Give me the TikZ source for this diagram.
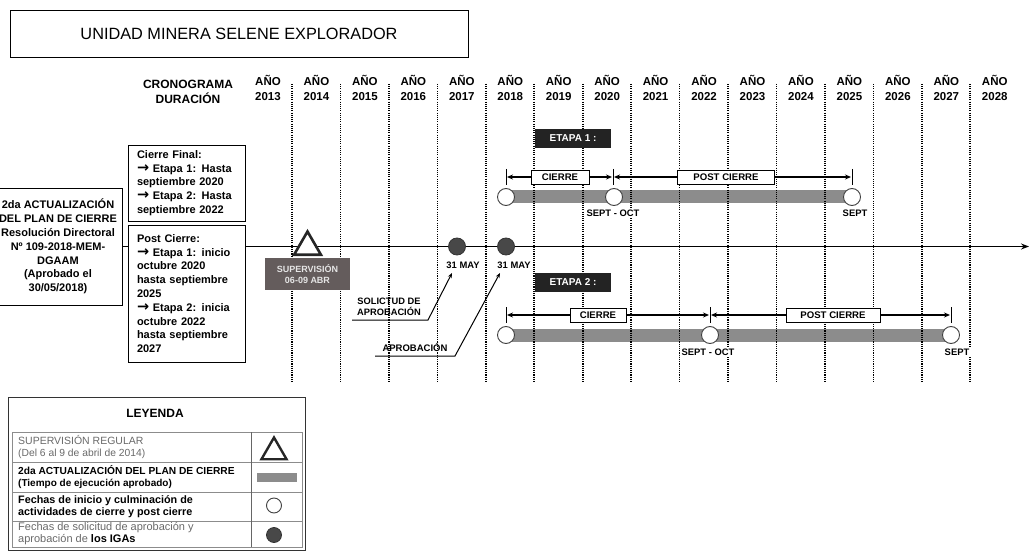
\documentclass[tikz,border=0pt]{standalone}
\usepackage{fontspec}
\setmainfont{Liberation Sans}
\newfontfamily\symfont{DejaVu Sans}
\usetikzlibrary{arrows.meta,shapes.geometric}
\definecolor{bargray}{RGB}{140,140,140}
\definecolor{dotfill}{RGB}{72,72,72}
\definecolor{supbox}{RGB}{100,92,92}
\definecolor{etapafill}{RGB}{35,35,35}
\definecolor{legtxt}{RGB}{105,105,105}
\newcommand\fsz[2]{\fontsize{#1}{#2}\selectfont}
\newcommand\arr{{\symfont\bfseries\fontsize{14.5}{13.8}\selectfont →}}
\begin{document}
\begin{tikzpicture}[x=1pt,y=-1pt,
  yearlbl/.style={font=\bfseries\fsz{11.5}{15}, align=center, inner sep=0},
  vdots/.style={line width=1.7pt, dash pattern=on 1.1pt off 1.1pt},
  phasebar/.style={line width=13pt, draw=bargray},
  opendot/.style={circle, draw=black!75, line width=0.9pt, fill=white, minimum size=17pt, inner sep=0},
  filldot/.style={circle, draw=black!80, line width=0.8pt, fill=dotfill, minimum size=17pt, inner sep=0},
  tagbox/.style={draw, line width=0.8pt, fill=white, font=\bfseries\fsz{9.6}{11}, minimum height=14pt, inner sep=0},
  etapabox/.style={fill=etapafill, text=white, font=\bfseries\fsz{10}{12}, minimum width=76pt, minimum height=19pt, inner sep=0},
  datelbl/.style={fill=white, font=\bfseries\fsz{9.4}{11}, inner sep=1.5pt},
  dimarr/.style={-{Stealth[length=6pt,width=5pt]}, line width=1.2pt, shorten >=1pt},
  annarr/.style={-{Stealth[length=5pt,width=4pt]}, line width=1pt},
  tickmark/.style={line width=0.9pt},
  infobox/.style={draw, line width=0.9pt, fill=white, font=\bfseries\fsz{11}{13.8}, inner sep=0},
  tri/.style={regular polygon, regular polygon sides=3, draw=black!85, line width=2.6pt, fill=white, inner sep=0},
  legrow/.style={anchor=west, align=left, inner sep=0},
]
\useasboundingbox (0,0) rectangle (1030,556);

% title
\node[draw, line width=0.9pt, minimum width=458pt, minimum height=47pt, font=\fsz{16.3}{19}] (title) at (239,33.5) {UNIDAD MINERA SELENE EXPLORADOR};

% header
\node[yearlbl, font=\bfseries\fsz{12}{15}] (crono) at (188,92) {CRONOGRAMA\\DURACIÓN};
\foreach \yr [count=\k from 0] in {2013,...,2028}
  \node[yearlbl] (y\yr) at ({268+48.45*\k},88) {AÑO\\\yr};

% phase bar coordinates
\coordinate (p11) at (506,197);
\coordinate (p12) at (614,197);
\coordinate (p13) at (852,197);
\coordinate (p21) at (506,335);
\coordinate (p22) at (710,335);
\coordinate (p23) at (951,335);
\draw[phasebar] (p11) -- (p13);
\draw[phasebar] (p21) -- (p23);

% dotted year separators
\foreach \i in {0,...,14}
  \draw[vdots] ({292+48.45*\i},84) -- ({292+48.45*\i},383);

% left boxes and main axis
\node[infobox, align=center, minimum width=128pt, minimum height=117pt] (lb) at (58,246.5)
  {2da ACTUALIZACIÓN\\DEL PLAN DE CIERRE\\Resolución Directoral\\Nº 109-2018-MEM-\\DGAAM\\(Aprobado el\\30/05/2018)};
\coordinate (axend) at (1029,246.5);
\draw[line width=1.3pt, -{Stealth[length=8pt,width=6pt]}] (lb.east) -- (axend);

\node[infobox, align=left, text width=99pt, inner xsep=9pt, minimum height=76pt] (cf) at (186.5,183)
  {Cierre Final:\\\arr{} Etapa 1: Hasta\\septiembre 2020\\\arr{} Etapa 2: Hasta\\septiembre 2022};
\node[infobox, align=left, text width=99pt, inner xsep=9pt, minimum height=137pt] (pc) at (186.5,293.5)
  {Post Cierre:\\\arr{} Etapa 1: inicio\\octubre 2020\\hasta septiembre\\2025\\\arr{} Etapa 2: inicia\\octubre 2022\\hasta septiembre\\2027};

% supervision
\node[tri, minimum size=31pt] (sup) at (307.5,247) {};
\node[fill=supbox, text=black!10, font=\bfseries\fsz{9}{11}, align=center, minimum width=85pt, minimum height=32pt, inner sep=0] (supbox) at (307.5,274) {SUPERVISIÓN\\06-09 ABR};

% approval dots
\node[filldot] (d1) at (457,246.5) {};
\node[filldot] (d2) at (506,246.5) {};
\node[datelbl] (m1) at (463,265) {31 MAY};
\node[datelbl] (m2) at (514,265) {31 MAY};

\node[font=\bfseries\fsz{9.3}{10.5}, align=center, inner sep=0] (sol) at (389,307) {SOLICTUD DE\\APROBACIÓN};
\coordinate (solA) at (352,320);
\coordinate (solB) at (428,320);
\coordinate (solT) at (452,273);
\draw[annarr] (solA) -- (solB) -- (solT);
\node[font=\bfseries\fsz{9.5}{11}, inner sep=0] (apr) at (415,347) {APROBACIÓN};
\coordinate (aprA) at (375,356);
\coordinate (aprB) at (455,356);
\coordinate (aprT) at (500,273);
\draw[annarr] (aprA) -- (aprB) -- (aprT);

% etapa 1
\node[etapabox] (e1) at (573,138.5) {ETAPA 1 :};
\coordinate (k11) at (506,177);
\coordinate (k12) at (613,177);
\coordinate (k13) at (852,177);
\foreach \k in {k11,k12,k13} \draw[tickmark] ([yshift=8pt]\k) -- ([yshift=-8pt]\k);
\node[tagbox, minimum width=58pt] (ci1) at (560,177) {CIERRE};
\node[tagbox, minimum width=97pt] (pci1) at (726,177) {POST CIERRE};
\draw[dimarr] (ci1.west) -- (k11);
\draw[dimarr] (ci1.east) -- (k12);
\draw[dimarr] (pci1.west) -- (k12);
\draw[dimarr] (pci1.east) -- (k13);
\node[opendot] (c11) at (p11) {};
\node[opendot] (c12) at (p12) {};
\node[opendot] (c13) at (p13) {};
\node[datelbl] (so1) at (613,213) {SEPT - OCT};
\node[datelbl] (se1) at (855,213) {SEPT};

% etapa 2
\node[etapabox] (e2) at (573,282.5) {ETAPA 2 :};
\coordinate (k21) at (506,315);
\coordinate (k22) at (710,315);
\coordinate (k23) at (951,315);
\foreach \k in {k21,k22,k23} \draw[tickmark] ([yshift=8pt]\k) -- ([yshift=-8pt]\k);
\node[tagbox, minimum width=56pt] (ci2) at (598,315) {CIERRE};
\node[tagbox, minimum width=94pt] (pci2) at (833,315) {POST CIERRE};
\draw[dimarr] (ci2.west) -- (k21);
\draw[dimarr] (ci2.east) -- (k22);
\draw[dimarr] (pci2.west) -- (k22);
\draw[dimarr] (pci2.east) -- (k23);
\node[opendot] (c21) at (p21) {};
\node[opendot] (c22) at (p22) {};
\node[opendot] (c23) at (p23) {};
\node[datelbl] (so2) at (708,352) {SEPT - OCT};
\node[datelbl] (se2) at (957,352) {SEPT};

% legend
\draw[line width=0.9pt, draw=black!80] (8,397) rectangle (305,550);
\node[font=\bfseries\fsz{12}{13}, inner sep=0] (leyenda) at (155,413) {LEYENDA};
\draw[line width=0.7pt, draw=black!45] (12,432) rectangle (302,547);
\foreach \yy in {462,492,521} \draw[line width=0.7pt, draw=black!45] (12,\yy) -- (302,\yy);
\draw[line width=0.7pt, draw=black!60] (251,432) -- (251,547);
\node[legrow, text=legtxt] (r1) at (18,447) {\fsz{10.5}{12}SUPERVISIÓN REGULAR\\\fsz{10.3}{12}(Del 6 al 9 de abril de 2014)};
\node[legrow, font=\bfseries] (r2) at (18,477) {\fsz{10.2}{12}2da ACTUALIZACIÓN DEL PLAN DE CIERRE\\\fsz{10}{12}(Tiempo de ejecución aprobado)};
\node[legrow, font=\bfseries] (r3) at (18,506.5) {\fsz{10.8}{12.3}Fechas de inicio y culminación de\\\fsz{10.8}{12.3}actividades de cierre y post cierre};
\node[legrow, text=legtxt] (r4) at (18,534) {\fsz{11}{12.3}Fechas de solicitud de aprobación y\\\fsz{11}{12.3}aprobación de \textcolor{black}{\bfseries los IGAs}};
\node[tri, minimum size=29pt, line width=2.4pt] (ltri) at (274,452) {};
\node[fill=bargray, minimum width=40pt, minimum height=9pt, inner sep=0] (lbar) at (277,477) {};
\node[opendot, minimum size=15pt] (lcirc) at (274,505.5) {};
\node[filldot, minimum size=15pt] (ldot) at (274,535) {};
\end{tikzpicture}
\end{document}
